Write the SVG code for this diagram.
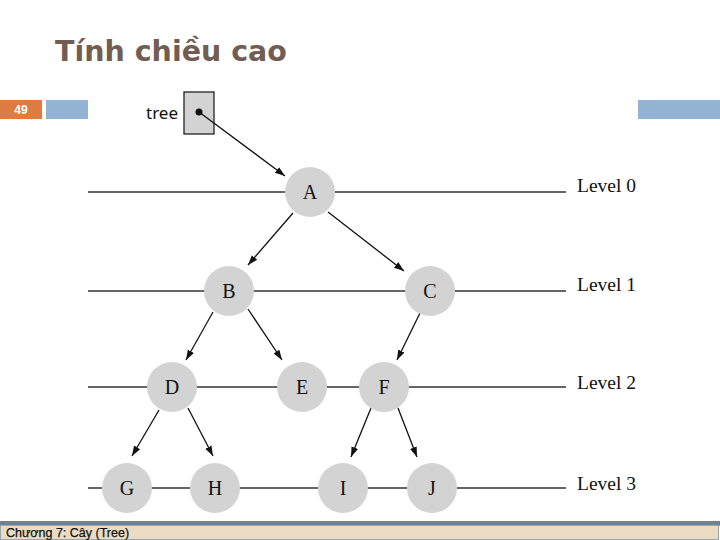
<svg xmlns="http://www.w3.org/2000/svg" width="720" height="540" viewBox="0 0 720 540">
<defs>
<style>
.node{fill:#d3d3d3}
.lbl{font-family:"Liberation Serif","Times New Roman",serif;font-size:20px;fill:#111;text-anchor:middle}
.lvl{font-family:"Liberation Serif","Times New Roman",serif;font-size:19.5px;fill:#111}
.level{stroke:#333;stroke-width:1.5}
.edge{stroke:#111;stroke-width:1.3;fill:none;marker-end:url(#arr)}
</style>
<marker id="arr" viewBox="0 0 10 10" refX="10" refY="5" markerWidth="10" markerHeight="10" markerUnits="userSpaceOnUse" orient="auto">
<path d="M0,1.5 L10,5 L0,8.5 Z" fill="#111"/>
</marker>
</defs>
<rect width="720" height="540" fill="#fff"/>
<text x="55" y="61" font-family="'DejaVu Sans',Verdana,sans-serif" font-weight="bold" font-size="28.5" fill="#725d52">Tính chiều cao</text>
<rect x="0" y="100" width="42" height="19" fill="#dd7b43"/>
<text x="21" y="114" font-family="'Liberation Sans',Arial,sans-serif" font-weight="bold" font-size="12" fill="#fff" text-anchor="middle">49</text>
<rect x="46" y="100" width="42" height="19" fill="#93b3d2"/>
<rect x="638" y="100" width="82" height="19" fill="#93b3d2"/>
<g id="levels">
<line class="level" x1="88" y1="192" x2="566" y2="192" stroke="#666"/>
<line class="level" x1="88" y1="291" x2="566" y2="291"/>
<line class="level" x1="88" y1="387" x2="566" y2="387"/>
<line class="level" x1="88" y1="488" x2="566" y2="488"/>
<text class="lvl" x="577" y="192">Level 0</text>
<text class="lvl" x="577" y="291">Level 1</text>
<text class="lvl" x="577" y="389">Level 2</text>
<text class="lvl" x="577" y="490">Level 3</text>
</g>
<g id="tree">
<rect x="184" y="92" width="30" height="42" fill="#d3d3d3" stroke="#222" stroke-width="1.3"/>
<circle cx="199" cy="112" r="3.5" fill="#111"/>
<text x="146" y="119" font-family="'Noto Sans','DejaVu Sans',sans-serif" font-size="17" fill="#111">tree</text>
</g>
<g id="connectors">
<line class="edge" x1="199" y1="112" x2="285" y2="176"/>
<line class="edge" x1="293" y1="213" x2="248" y2="265"/>
<line class="edge" x1="328" y1="212" x2="404" y2="271"/>
<line class="edge" x1="213" y1="312" x2="186" y2="360"/>
<line class="edge" x1="248" y1="309" x2="282" y2="360"/>
<line class="edge" x1="420" y1="313" x2="397" y2="360"/>
<line class="edge" x1="159" y1="410" x2="132" y2="456"/>
<line class="edge" x1="188" y1="408" x2="213" y2="456"/>
<line class="edge" x1="371" y1="408" x2="351" y2="457"/>
<line class="edge" x1="398" y1="408" x2="417" y2="457"/>
</g>
<g id="A"><circle class="node" cx="310" cy="192" r="25"/><text class="lbl" x="310" y="199">A</text></g>
<g id="B"><circle class="node" cx="229" cy="291" r="25"/><text class="lbl" x="229" y="298">B</text></g>
<g id="C"><circle class="node" cx="430" cy="291" r="25"/><text class="lbl" x="430" y="298">C</text></g>
<g id="D"><circle class="node" cx="172" cy="387" r="25"/><text class="lbl" x="172" y="394">D</text></g>
<g id="E"><circle class="node" cx="302" cy="387" r="25"/><text class="lbl" x="302" y="394">E</text></g>
<g id="F"><circle class="node" cx="384" cy="387" r="25"/><text class="lbl" x="384" y="394">F</text></g>
<g id="G"><circle class="node" cx="127" cy="488" r="25"/><text class="lbl" x="127" y="495">G</text></g>
<g id="H"><circle class="node" cx="215" cy="488" r="25"/><text class="lbl" x="215" y="495">H</text></g>
<g id="I"><circle class="node" cx="343" cy="488" r="25"/><text class="lbl" x="343" y="495">I</text></g>
<g id="J"><circle class="node" cx="432" cy="488" r="25"/><text class="lbl" x="432" y="495">J</text></g>
<g id="footer">
<rect x="0" y="521" width="720" height="5" fill="#6e8290"/>
<rect x="0.5" y="525.5" width="718" height="14" fill="#eadcc4" stroke="#9aa5ad" stroke-width="1"/>
<text x="6" y="537" font-family="'Liberation Sans',Arial,sans-serif" font-size="12.5" fill="#111" stroke="#111" stroke-width="0.25">Chương 7: Cây (Tree)</text>
</g>
</svg>
